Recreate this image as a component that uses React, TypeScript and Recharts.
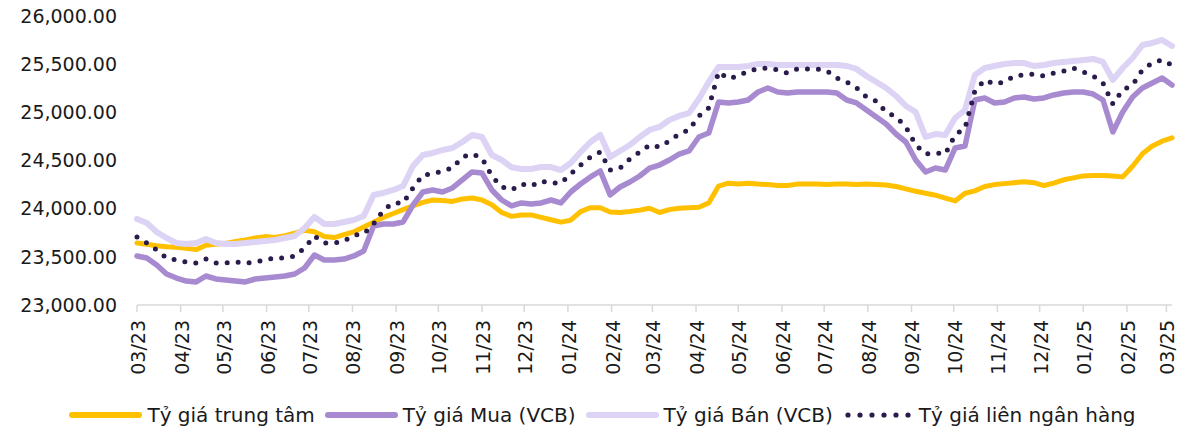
import React from 'react';
import { LineChart, Line, XAxis, YAxis, Legend } from 'recharts';

// ---------- data ----------
const startDate = Date.UTC(2023, 2, 1); // first observation: 01/03/2023
const stepDays = 7; // weekly observations

const monthLabels = [
  '03/23', '04/23', '05/23', '06/23', '07/23', '08/23', '09/23', '10/23', '11/23', '12/23',
  '01/24', '02/24', '03/24', '04/24', '05/24', '06/24', '07/24', '08/24', '09/24', '10/24',
  '11/24', '12/24', '01/25', '02/25', '03/25',
];

const yTicks = [23000, 23500, 24000, 24500, 25000, 25500, 26000];

const centralRate = [
  23644, 23630, 23615, 23605, 23600, 23590, 23575, 23620, 23630, 23640,
  23660, 23675, 23695, 23710, 23700, 23720, 23745, 23775, 23760, 23710,
  23700, 23730, 23760, 23810, 23860, 23910, 23950, 23990, 24030, 24065,
  24090, 24085, 24075, 24100, 24110, 24090, 24040, 23960, 23920, 23935,
  23935, 23910, 23885, 23860, 23880, 23970, 24010, 24010, 23965, 23960,
  23970, 23985, 24005, 23960, 23990, 24005, 24010, 24015, 24060, 24235,
  24265, 24255, 24265, 24255, 24250, 24240, 24240, 24255, 24255, 24255,
  24250, 24255, 24255, 24250, 24255, 24250, 24245, 24230, 24205, 24180,
  24160, 24140, 24110, 24080, 24160, 24185, 24230, 24250, 24260, 24270,
  24280, 24270, 24240, 24265, 24300, 24320, 24340, 24345, 24345, 24340,
  24330, 24440, 24570, 24650, 24700, 24735,
];

const buyVCB = [
  23509, 23488, 23415, 23322, 23280, 23249, 23239, 23301, 23270, 23260,
  23249, 23239, 23270, 23280, 23290, 23301, 23322, 23384, 23519, 23467,
  23467, 23477, 23509, 23560, 23820, 23841, 23841, 23862, 24038, 24173,
  24194, 24173, 24215, 24298, 24381, 24370, 24194, 24090, 24028, 24059,
  24049, 24059, 24090, 24059, 24173, 24256, 24329, 24391, 24142, 24225,
  24277, 24339, 24422, 24453, 24505, 24567, 24599, 24744, 24785, 25107,
  25097, 25107, 25128, 25211, 25252, 25211, 25201, 25211, 25211, 25211,
  25211, 25201, 25128, 25097, 25024, 24952, 24879, 24775, 24692, 24505,
  24381, 24422, 24401, 24630, 24651, 25128, 25149, 25097, 25107, 25149,
  25159, 25138, 25149, 25180, 25201, 25211, 25211, 25190, 25128, 24796,
  25003, 25159, 25252, 25304, 25356, 25283,
];

const sellVCB = [
  23893, 23851, 23758, 23695, 23644, 23633, 23644, 23685, 23644, 23633,
  23633, 23644, 23654, 23664, 23675, 23695, 23716, 23799, 23914, 23841,
  23841, 23862, 23882, 23924, 24142, 24163, 24194, 24235, 24443, 24557,
  24578, 24609, 24630, 24692, 24765, 24744, 24557, 24505, 24430, 24412,
  24412, 24432, 24432, 24401, 24474, 24588, 24692, 24765, 24536, 24598,
  24661, 24744, 24817, 24848, 24920, 24962, 24993, 25138, 25315, 25471,
  25471, 25471, 25481, 25502, 25502, 25491, 25491, 25491, 25491, 25491,
  25491, 25491, 25481, 25450, 25377, 25315, 25253, 25170, 25066, 25003,
  24744, 24775, 24765, 24941, 25024, 25388, 25460, 25481, 25502, 25512,
  25512, 25481, 25491, 25512, 25523, 25533, 25543, 25554, 25523, 25336,
  25460, 25564, 25699, 25720, 25751, 25689,
];

const interbankRate = [
  23706, 23644, 23571, 23488, 23467, 23446, 23436, 23478, 23436, 23436,
  23446, 23436, 23446, 23467, 23488, 23488, 23509, 23592, 23716, 23644,
  23644, 23664, 23727, 23737, 23841, 23986, 24059, 24059, 24215, 24350,
  24360, 24391, 24422, 24536, 24568, 24526, 24339, 24225, 24194, 24256,
  24235, 24287, 24266, 24266, 24360, 24453, 24536, 24588, 24401, 24422,
  24515, 24588, 24661, 24640, 24702, 24775, 24817, 24962, 25045, 25419,
  25349, 25377, 25429, 25450, 25460, 25440, 25408, 25450, 25450, 25450,
  25429, 25356, 25315, 25253, 25159, 25117, 25003, 24952, 24848, 24661,
  24568, 24578, 24568, 24765, 24837, 25222, 25336, 25294, 25315, 25377,
  25387, 25398, 25377, 25408, 25429, 25460, 25419, 25377, 25304, 25087,
  25232, 25283, 25440, 25512, 25543, 25491,
];

const seriesNames = {
  central: 'Tỷ giá trung tâm',
  buy: 'Tỷ giá Mua (VCB)',
  sell: 'Tỷ giá Bán (VCB)',
  inter: 'Tỷ giá liên ngân hàng',
};

// ---------- derived ----------
const DAY_MS = 86400000;
const monthTicks = monthLabels.map((_, k) => Math.round((Date.UTC(2023, 2 + k, 1) - startDate) / DAY_MS));
const data = centralRate.map((v, i) => ({
  day: i * stepDays,
  central: v,
  buy: buyVCB[i],
  sell: sellVCB[i],
  inter: interbankRate[i],
}));
const lastDay = (centralRate.length - 1) * stepDays;

// ---------- style ----------
const FONT = '"DejaVu Sans", sans-serif';
const TEXT = '#1a1a1a';
const C_CENTRAL = '#FFC000';
const C_BUY = '#A88AD0';
const C_SELL = '#DDD3F5';
const C_INTER = '#2B1B4C';

const fmtY = (v: number) => v.toLocaleString('en-US', { minimumFractionDigits: 2, maximumFractionDigits: 2 });

const XTick = (props: any) => {
  const { x, y, payload } = props;
  const idx = monthTicks.indexOf(payload.value);
  const label = idx >= 0 ? monthLabels[idx] : '';
  return (
    <text
      x={x + 1}
      y={y}
      transform={`rotate(-90 ${x + 1} ${y})`}
      textAnchor="end"
      dominantBaseline="central"
      fill={TEXT}
      fontSize={19}
      fontFamily={FONT}
    >
      {label}
    </text>
  );
};

const LegendSwatch = ({ color, dotted }: { color: string; dotted?: boolean }) => (
  <svg width={73} height={12} style={{ display: 'block', flex: 'none' }}>
    {dotted ? (
      [0, 1, 2, 3, 4, 5].map((k) => <circle key={k} cx={5 + k * 12} cy={6} r={2.6} fill={color} />)
    ) : (
      <line x1={3} x2={70} y1={6} y2={6} stroke={color} strokeWidth={6} strokeLinecap="round" />
    )}
  </svg>
);

const legendItems = [
  { name: seriesNames.central, color: C_CENTRAL, dotted: false },
  { name: seriesNames.buy, color: C_BUY, dotted: false },
  { name: seriesNames.sell, color: C_SELL, dotted: false },
  { name: seriesNames.inter, color: C_INTER, dotted: true },
];

const LegendContent = () => (
  <div
    style={{
      display: 'flex',
      justifyContent: 'center',
      alignItems: 'center',
      height: 30,
      fontFamily: FONT,
      fontSize: 20,
      color: TEXT,
      whiteSpace: 'nowrap',
      paddingLeft: 33,
    }}
  >
    {legendItems.map((it, i) => (
      <div key={i} style={{ display: 'flex', alignItems: 'center', marginRight: i < 3 ? 10 : 0 }}>
        <LegendSwatch color={it.color} dotted={it.dotted} />
        <span style={{ marginLeft: it.dotted ? 3 : 5 }}>{it.name}</span>
      </div>
    ))}
  </div>
);

export default function App() {
  return (
    <div style={{ position: 'absolute', left: 0, top: 0, width: 1195, height: 432, background: '#fff' }}>
      <LineChart
        width={1195}
        height={432}
        data={data}
        margin={{ top: 16, right: 23, bottom: 2, left: 0 }}
      >
        <XAxis
          dataKey="day"
          type="number"
          domain={[0, lastDay]}
          ticks={monthTicks}
          interval={0}
          height={95}
          tick={<XTick />}
          tickSize={7}
          tickMargin={8}
          axisLine={{ stroke: '#D9D9D9', strokeWidth: 1.5 }}
          tickLine={{ stroke: '#D9D9D9', strokeWidth: 1.5 }}
        />
        <YAxis
          type="number"
          domain={[23000, 26000]}
          ticks={yTicks}
          interval={0}
          width={137}
          axisLine={false}
          tickLine={false}
          tickSize={0}
          tickMargin={20}
          tickFormatter={fmtY}
          tick={{ fill: TEXT, fontSize: 19, fontFamily: FONT }}
        />
        <Legend verticalAlign="bottom" content={<LegendContent />} />
        <Line
          dataKey="central"
          name={seriesNames.central}
          stroke={C_CENTRAL}
          strokeWidth={5}
          dot={false}
          type="linear"
          strokeLinejoin="round"
          strokeLinecap="round"
          isAnimationActive={false}
        />
        <Line
          dataKey="buy"
          name={seriesNames.buy}
          stroke={C_BUY}
          strokeWidth={5.5}
          dot={false}
          type="linear"
          strokeLinejoin="round"
          strokeLinecap="round"
          isAnimationActive={false}
        />
        <Line
          dataKey="sell"
          name={seriesNames.sell}
          stroke={C_SELL}
          strokeWidth={6}
          dot={false}
          type="linear"
          strokeLinejoin="round"
          strokeLinecap="round"
          isAnimationActive={false}
        />
        <Line
          dataKey="inter"
          name={seriesNames.inter}
          stroke={C_INTER}
          strokeWidth={5}
          strokeDasharray="0 11"
          strokeLinecap="round"
          dot={false}
          type="linear"
          isAnimationActive={false}
        />
      </LineChart>
    </div>
  );
}
